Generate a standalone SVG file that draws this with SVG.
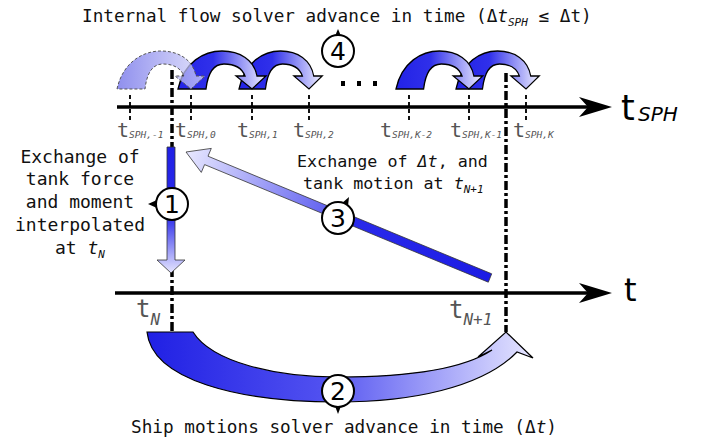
<svg xmlns="http://www.w3.org/2000/svg" width="702" height="437" viewBox="0 0 702 437">
<style>
.mono{font-family:"DejaVu Sans Mono","Liberation Mono",monospace;fill:#111}
.lbl{font-family:"DejaVu Sans Mono","Liberation Mono",monospace;fill:#555}
.it{font-style:italic}
.dd{stroke:#000;stroke-width:3.5;stroke-dasharray:9 3 3 3;fill:none}
.tk{stroke:#111;stroke-width:2;stroke-dasharray:4 3;fill:none}
.ax{stroke:#000;stroke-width:3.5;fill:none}
.cc{fill:#fff;stroke:#000;stroke-width:2}
.num{font-family:"DejaVu Sans",sans-serif;font-size:25px;text-anchor:middle;fill:#000}
.arcs{stroke:#000;stroke-width:1.3;fill:url(#gArc)}
</style>
<defs>
<linearGradient id="gArc" x1="0" y1="0" x2="1" y2="0">
<stop offset="0" stop-color="#2222e6"/>
<stop offset="0.4" stop-color="#3030ea"/>
<stop offset="1" stop-color="#f0f0ff"/>
</linearGradient>
<linearGradient id="gDash" x1="0" y1="0" x2="1" y2="0">
<stop offset="0" stop-color="#6a6ae8"/>
<stop offset="1" stop-color="#d8d8fa"/>
</linearGradient>
<linearGradient id="g1" gradientUnits="userSpaceOnUse" x1="0" y1="147" x2="0" y2="273">
<stop offset="0" stop-color="#2020e6"/>
<stop offset="0.55" stop-color="#2c2cea"/>
<stop offset="1" stop-color="#e6e6ff"/>
</linearGradient>
<linearGradient id="g2" gradientUnits="userSpaceOnUse" x1="147" y1="0" x2="533" y2="0">
<stop offset="0" stop-color="#2020e4"/>
<stop offset="0.45" stop-color="#5050f0"/>
<stop offset="1" stop-color="#e6e6ff"/>
</linearGradient>
<linearGradient id="g3" gradientUnits="userSpaceOnUse" x1="490" y1="278" x2="186" y2="152">
<stop offset="0" stop-color="#1c1ce4"/>
<stop offset="0.45" stop-color="#2a2aea"/>
<stop offset="0.55" stop-color="#6666f0"/>
<stop offset="1" stop-color="#e8e8ff"/>
</linearGradient>
<path id="arc" d="M0,0 C6,-27 26,-38 44,-38 C62,-38 76,-29 79,-13 L88,-13 L74,0 L58,-13 L67,-13 C64,-21 56,-25 46,-25 C36,-25 30,-17 28,0 Z"/>
</defs>

<g id="title-top">
<text class="mono" x="82" y="22" font-size="17.7">Internal flow solver advance in time (Δ<tspan class="it">t</tspan><tspan class="it" font-size="11" dy="4">SPH</tspan><tspan dy="-4"> ≤ Δt)</tspan></text>
</g>

<g id="guides">
<line class="dd" x1="172" y1="70" x2="172" y2="332"/>
<line class="dd" x1="506" y1="73" x2="506" y2="332"/>
<line class="tk" x1="130" y1="95" x2="130" y2="121"/>
<line class="tk" x1="191" y1="95" x2="191" y2="121"/>
<line class="tk" x1="252" y1="95" x2="252" y2="121"/>
<line class="tk" x1="309" y1="95" x2="309" y2="121"/>
<line class="tk" x1="409" y1="95" x2="409" y2="121"/>
<line class="tk" x1="469" y1="95" x2="469" y2="121"/>
<line class="tk" x1="526" y1="95" x2="526" y2="121"/>
</g>

<g id="axis-sph">
<line class="ax" x1="117" y1="107" x2="590" y2="107"/>
<path d="M612,107 L579,97 L588,107 L579,117 Z" fill="#000"/>
<text x="621" y="120" font-family="DejaVu Sans,sans-serif" font-size="35" fill="#000">t</text>
<text x="638" y="121" font-family="DejaVu Sans,sans-serif" font-size="20" font-style="italic" fill="#000">SPH</text>
</g>

<g id="axis-t">
<line class="ax" x1="115" y1="293" x2="590" y2="293"/>
<path d="M612,293 L579,283 L588,293 L579,303 Z" fill="#000"/>
<text x="624" y="301" font-family="DejaVu Sans,sans-serif" font-size="32" fill="#000">t</text>
</g>

<g id="sph-labels" class="lbl">
<text x="117" y="137" font-size="20">t<tspan class="it" font-size="9.5" dy="1">SPH,-1</tspan></text>
<text x="175" y="137" font-size="20">t<tspan class="it" font-size="9.5" dy="1">SPH,0</tspan></text>
<text x="237" y="137" font-size="20">t<tspan class="it" font-size="9.5" dy="1">SPH,1</tspan></text>
<text x="293" y="137" font-size="20">t<tspan class="it" font-size="9.5" dy="1">SPH,2</tspan></text>
<text x="380" y="137" font-size="20">t<tspan class="it" font-size="9.5" dy="1">SPH,K-2</tspan></text>
<text x="450" y="137" font-size="20">t<tspan class="it" font-size="9.5" dy="1">SPH,K-1</tspan></text>
<text x="513" y="137" font-size="20">t<tspan class="it" font-size="9.5" dy="1">SPH,K</tspan></text>
<text x="136" y="317" font-size="24">t<tspan class="it" font-size="16" dy="8">N</tspan></text>
<text x="449" y="318" font-size="24">t<tspan class="it" font-size="16" dy="7">N+1</tspan></text>
</g>

<g id="dots" fill="#000">
<rect x="341" y="81" width="4" height="5"/>
<rect x="357" y="81" width="4" height="5"/>
<rect x="373" y="81" width="4" height="5"/>
</g>

<g id="connectors">
<use href="#arc" transform="translate(239,89) scale(0.946,1)" class="arcs"/>
<use href="#arc" transform="translate(178,89)" class="arcs"/>
<use href="#arc" transform="translate(456,89) scale(0.946,1)" class="arcs"/>
<use href="#arc" transform="translate(396,89) scale(0.986,1)" class="arcs"/>
<use href="#arc" transform="translate(117,89)" fill="url(#gDash)" fill-opacity="0.75" stroke="#555" stroke-width="1" stroke-dasharray="3 2"/>
<path id="arrow1" d="M167,147 L175,147 L175,260 L185,260 L171,273 L157,260 L167,260 Z" fill="url(#g1)" stroke="#333" stroke-width="0.8"/>
<path id="arrow3" d="M491.7,273.8 L208,156.2 L211.3,148.4 L186,152 L201.3,172.4 L204.6,164.6 L488.3,282.2 Z" fill="url(#g3)" stroke="#333" stroke-width="0.8"/>
<path id="arrow2" d="M147,332 L193,332 C212,362 275,377 338,377 C410,377 465,368 492,350 L478,357 L506,332 L533,358 L517,352 C482,388 410,402 338,402 C238,402 152,380 147,332 Z" fill="url(#g2)" stroke="#000" stroke-width="1.2"/>
</g>

<g id="c1">
<path d="M157,200 L148,204 L157,208 Z" fill="#000"/>
<circle class="cc" cx="172" cy="204" r="16"/>
<text class="num" x="172" y="213">1</text>
</g>
<g id="c2">
<path d="M335,406 L338,414 L341,406 Z" fill="#000"/>
<circle class="cc" cx="338" cy="391" r="16"/>
<text class="num" x="338" y="400">2</text>
</g>
<g id="c3">
<path d="M342.7,202.4 L349,197 L348.1,205.2 Z" fill="#000"/>
<circle class="cc" cx="338" cy="218" r="16"/>
<text class="num" x="338" y="227">3</text>
</g>
<g id="c4">
<path d="M335,36 L338,29 L341,36 Z" fill="#000"/>
<circle class="cc" cx="338" cy="51" r="16"/>
<text class="num" x="338" y="60">4</text>
</g>

<g id="text-left" class="mono" font-size="18" text-anchor="middle">
<text x="80" y="163">Exchange of</text>
<text x="80" y="185">tank force</text>
<text x="80" y="208">and moment</text>
<text x="80" y="231">interpolated</text>
<text x="55" y="254" text-anchor="start">at <tspan class="it">t</tspan><tspan class="it" font-size="11" dy="4">N</tspan></text>
</g>

<g id="text-mid" class="mono" font-size="16.7">
<text x="297" y="167">Exchange of <tspan class="it">Δt</tspan>, and</text>
<text x="303" y="189">tank motion at <tspan class="it">t</tspan><tspan class="it" font-size="11" dy="4">N+1</tspan></text>
</g>

<g id="text-bottom">
<text class="mono" x="131" y="433" font-size="17.7">Ship motions solver advance in time (Δ<tspan class="it">t</tspan>)</text>
</g>
</svg>
